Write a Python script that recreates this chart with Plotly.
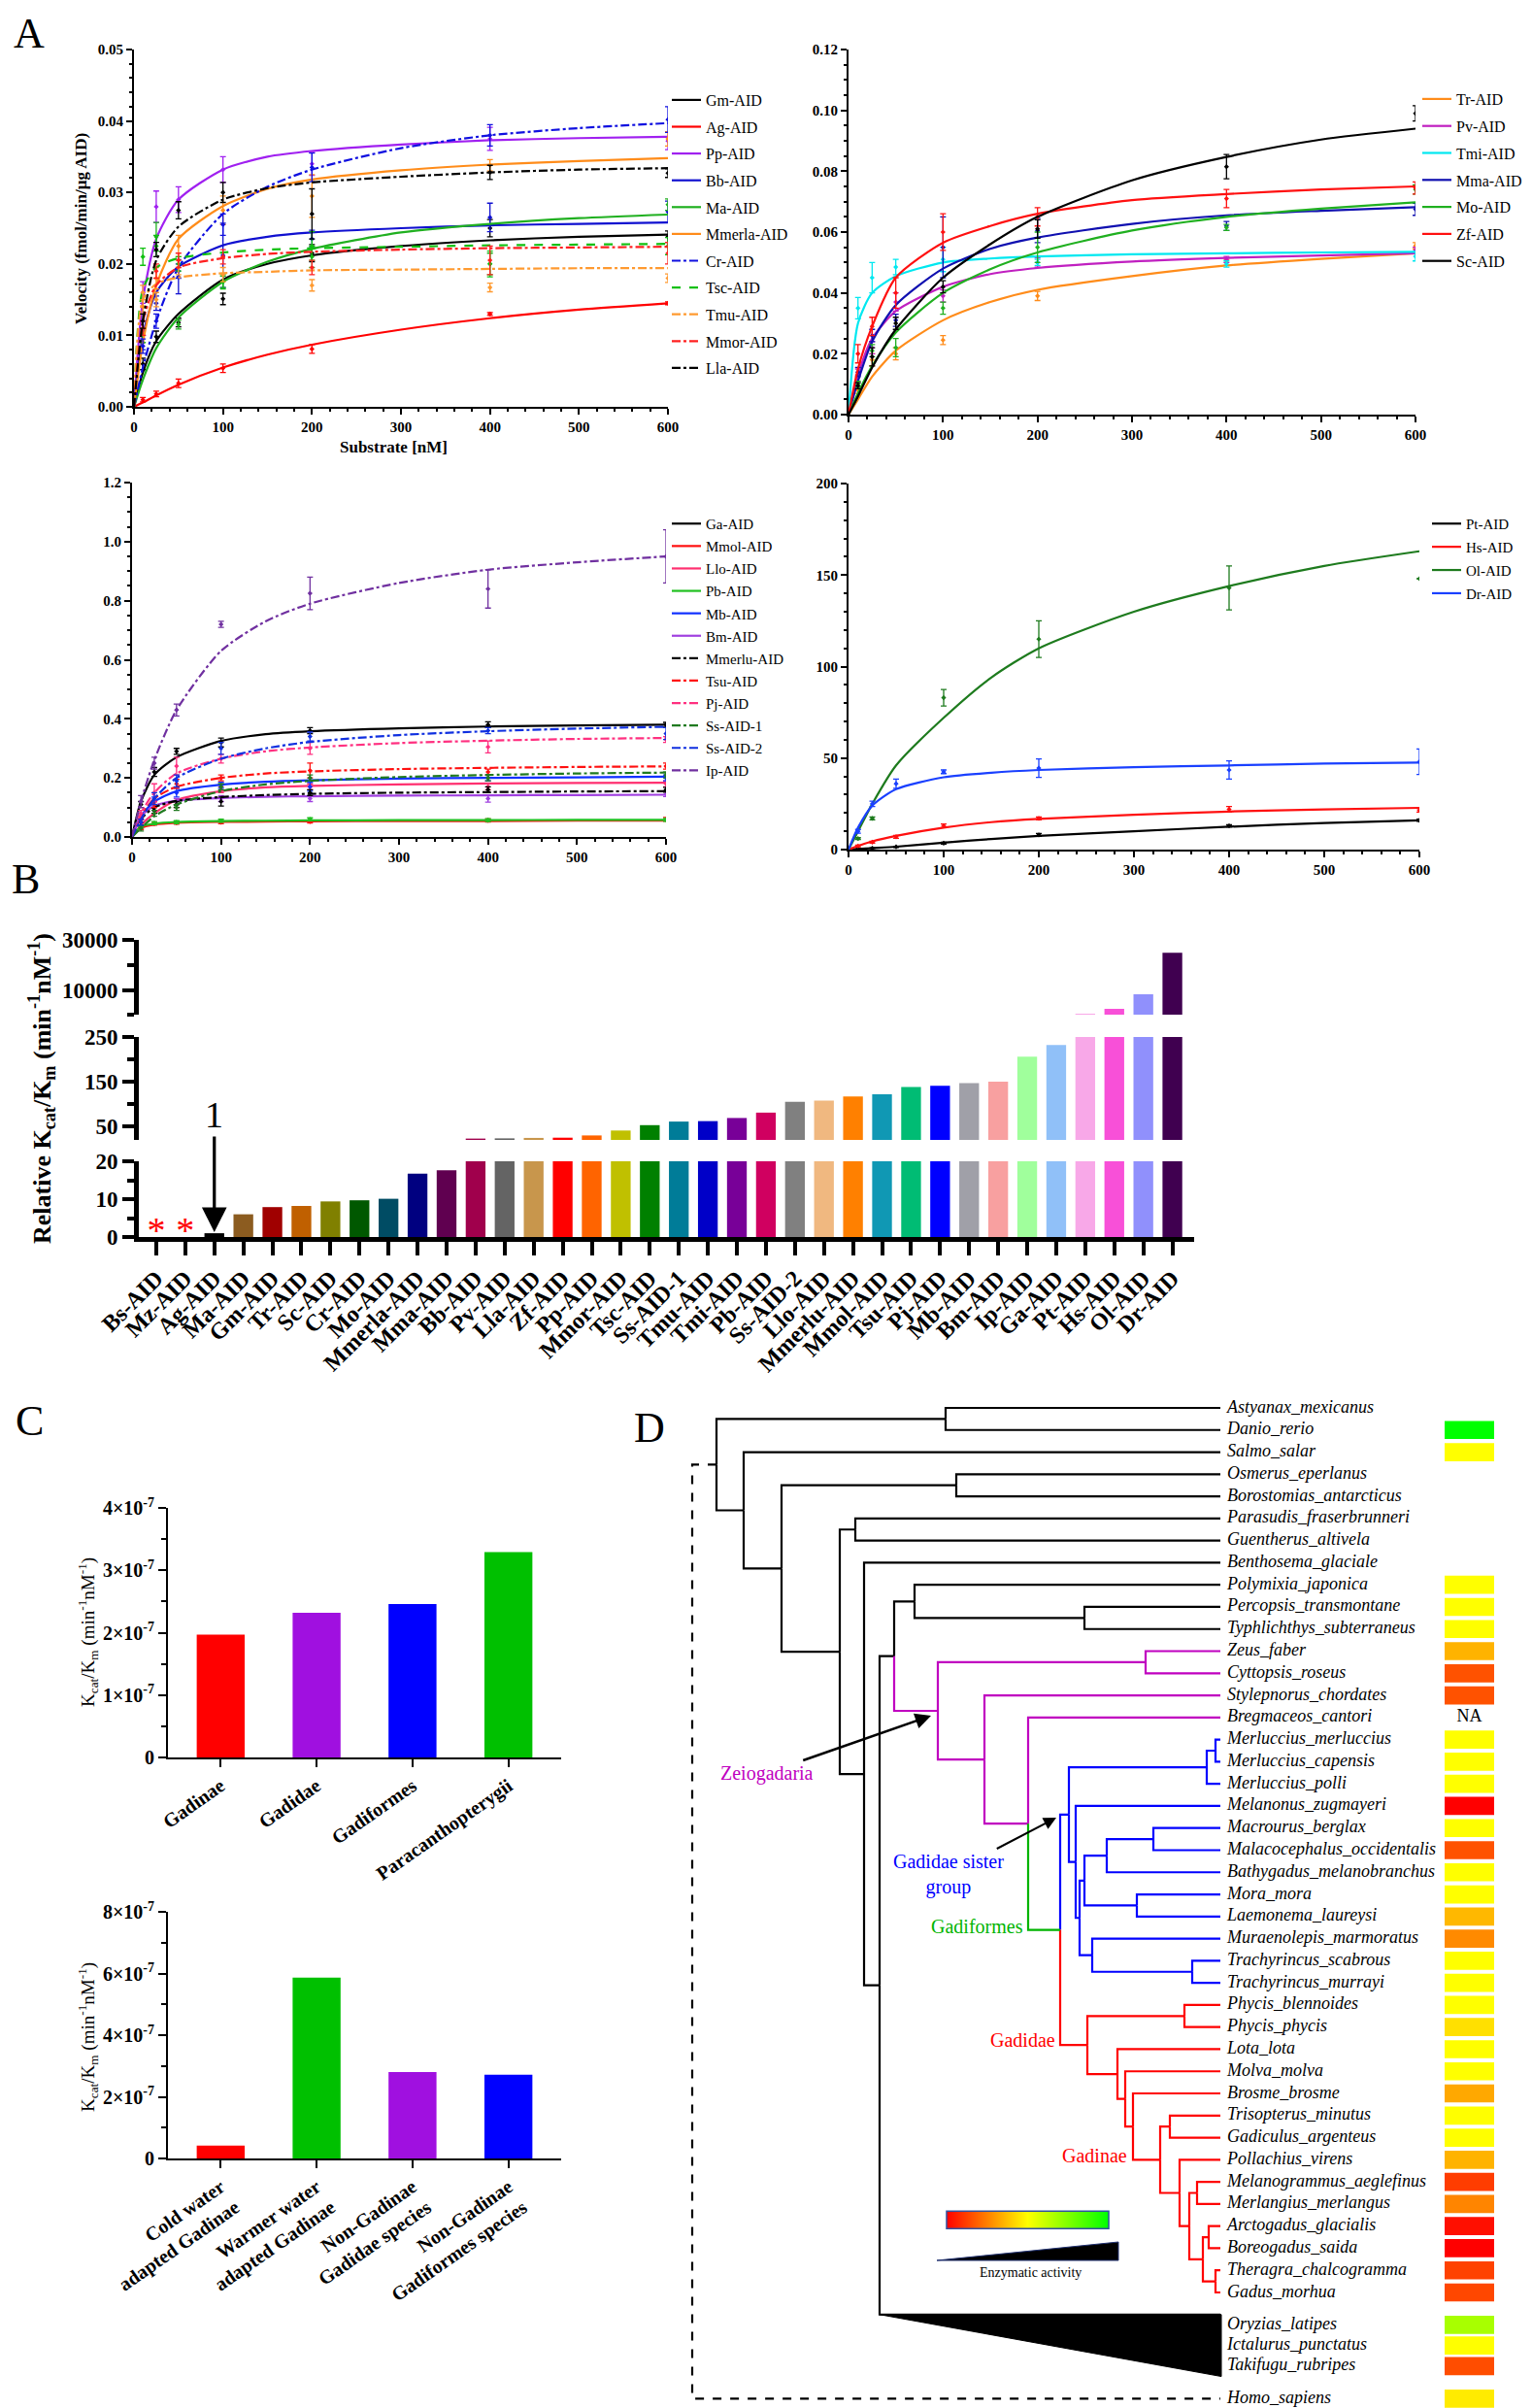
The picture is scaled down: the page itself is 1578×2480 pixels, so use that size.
import plotly.graph_objects as go

W, H = 1578, 2480
SERIF = "Liberation Serif"


def px(x):
    return x / W


def py(y):
    return 1 - y / H


# ======================= Panel A data =======================
CURVE_X = [0, 10, 25, 50, 100, 150, 200, 300, 400, 500, 600]
MEAS_X = [10, 25, 50, 100, 200, 400, 600]

a1_names = ["Gm-AID", "Ag-AID", "Pp-AID", "Bb-AID", "Ma-AID", "Mmerla-AID",
            "Cr-AID", "Tsc-AID", "Tmu-AID", "Mmor-AID", "Lla-AID"]
a1_colors = ["#000000", "#ff0000", "#a020f0", "#1010d0", "#20b020", "#ff8c1a",
             "#1010e0", "#10c010", "#ff9a30", "#ff2020", "#000000"]
a1_dash = ["solid"] * 6 + ["dashdot", "dash", "dashdot", "dashdot", "dashdot"]
a1_curve = [
    [0, 0.0048, 0.0092, 0.0130, 0.0178, 0.0200, 0.0212, 0.0225, 0.0233, 0.0238, 0.0241],
    [0, 0.0006, 0.0016, 0.0031, 0.0055, 0.0073, 0.0087, 0.0108, 0.0124, 0.0136, 0.0145],
    [0, 0.0150, 0.0235, 0.0290, 0.0332, 0.0350, 0.0358, 0.0367, 0.0373, 0.0376, 0.0378],
    [0, 0.0100, 0.0160, 0.0196, 0.0226, 0.0238, 0.0244, 0.0250, 0.0254, 0.0256, 0.0258],
    [0, 0.0038, 0.0082, 0.0125, 0.0175, 0.0203, 0.0221, 0.0244, 0.0256, 0.0264, 0.0269],
    [0, 0.0090, 0.0170, 0.0235, 0.0281, 0.0305, 0.0318, 0.0331, 0.0339, 0.0344, 0.0348],
    [0, 0.0055, 0.0120, 0.0195, 0.0270, 0.0308, 0.0332, 0.0362, 0.0380, 0.0390, 0.0397],
    [0, 0.0165, 0.0195, 0.0208, 0.0216, 0.0220, 0.0222, 0.0224, 0.0226, 0.0227, 0.0228],
    [0, 0.0150, 0.0172, 0.0181, 0.0187, 0.0189, 0.0191, 0.0192, 0.0193, 0.0194, 0.0194],
    [0, 0.0120, 0.0170, 0.0195, 0.0208, 0.0214, 0.0217, 0.0220, 0.0222, 0.0223, 0.0224],
    [0, 0.0120, 0.0205, 0.0252, 0.0290, 0.0306, 0.0314, 0.0322, 0.0328, 0.0332, 0.0334],
]
a1_mean = [
    [0.0060, 0.0098, 0.0118, 0.0151, 0.0215, 0.0250, 0.0238],
    [0.0010, 0.0018, 0.0033, 0.0054, 0.0081, 0.0130, 0.0145],
    [0.0160, 0.0280, 0.0290, 0.0332, 0.0340, 0.0375, 0.0372],
    [0.0090, 0.0145, 0.0182, 0.0212, 0.0235, 0.0265, 0.0273],
    [0.0100, 0.0238, 0.0115, 0.0175, 0.0210, 0.0200, 0.0283],
    [0.0140, 0.0180, 0.0225, 0.0275, 0.0295, 0.0338, 0.0375],
    [0.0085, 0.0120, 0.0190, 0.0255, 0.0335, 0.0380, 0.0402],
    [0.0210, 0.0225, 0.0200, 0.0175, 0.0225, 0.0200, 0.0225],
    [0.0160, 0.0150, 0.0195, 0.0185, 0.0170, 0.0167, 0.0180],
    [0.0110, 0.0190, 0.0205, 0.0210, 0.0195, 0.0205, 0.0215],
    [0.0120, 0.0220, 0.0275, 0.0300, 0.0270, 0.0328, 0.0327],
]
a1_err = [
    [0.0008, 0.0008, 0.0006, 0.0008, 0.0012, 0.0012, 0.0008],
    [0.0003, 0.0004, 0.0006, 0.0006, 0.0006, 0.0002, 0.0002],
    [0.0015, 0.0022, 0.0018, 0.0018, 0.0016, 0.0016, 0.0012],
    [0.0010, 0.0010, 0.0024, 0.0045, 0.0012, 0.0020, 0.0015],
    [0.0010, 0.0020, 0.0006, 0.0008, 0.0015, 0.0015, 0.0008],
    [0.0010, 0.0015, 0.0015, 0.0020, 0.0030, 0.0008, 0.0010],
    [0.0010, 0.0010, 0.0010, 0.0015, 0.0020, 0.0015, 0.0018],
    [0.0012, 0.0015, 0.0010, 0.0010, 0.0020, 0.0018, 0.0012],
    [0.0010, 0.0010, 0.0010, 0.0010, 0.0008, 0.0006, 0.0006],
    [0.0010, 0.0010, 0.0010, 0.0010, 0.0010, 0.0020, 0.0015],
    [0.0010, 0.0010, 0.0012, 0.0014, 0.0035, 0.0010, 0.0006],
]

a2_names = ["Tr-AID", "Pv-AID", "Tmi-AID", "Mma-AID", "Mo-AID", "Zf-AID", "Sc-AID"]
a2_colors = ["#ff8c1a", "#c020c0", "#00e8f0", "#1010b0", "#20b020", "#ff1010", "#000000"]
a2_dash = ["solid"] * 7
a2_curve = [
    [0, 0.0050, 0.0125, 0.0210, 0.0310, 0.0370, 0.0410, 0.0455, 0.0490, 0.0512, 0.0530],
    [0, 0.0130, 0.0250, 0.0340, 0.0420, 0.0462, 0.0482, 0.0503, 0.0515, 0.0523, 0.0530],
    [0, 0.0300, 0.0400, 0.0455, 0.0500, 0.0513, 0.0520, 0.0527, 0.0530, 0.0533, 0.0535],
    [0, 0.0110, 0.0240, 0.0360, 0.0480, 0.0545, 0.0582, 0.0627, 0.0655, 0.0670, 0.0682],
    [0, 0.0070, 0.0160, 0.0270, 0.0400, 0.0478, 0.0533, 0.0605, 0.0650, 0.0677, 0.0698],
    [0, 0.0150, 0.0290, 0.0450, 0.0565, 0.0620, 0.0660, 0.0705, 0.0725, 0.0740, 0.0750],
    [0, 0.0060, 0.0155, 0.0280, 0.0450, 0.0560, 0.0650, 0.0770, 0.0847, 0.0904, 0.0940],
]
a2_mean = [
    [0.0080, 0.0180, 0.0200, 0.0245, 0.0390, 0.0500, 0.0555],
    [0.0140, 0.0220, 0.0370, 0.0390, 0.0500, 0.0510, 0.0540],
    [0.0350, 0.0450, 0.0485, 0.0510, 0.0500, 0.0495, 0.0520],
    [0.0140, 0.0260, 0.0310, 0.0550, 0.0605, 0.0620, 0.0675],
    [0.0100, 0.0210, 0.0220, 0.0350, 0.0550, 0.0615, 0.0740],
    [0.0200, 0.0290, 0.0400, 0.0600, 0.0650, 0.0710, 0.0745],
    [0.0095, 0.0190, 0.0300, 0.0420, 0.0610, 0.0815, 0.0990],
]
a2_err = [
    [0.0010, 0.0020, 0.0020, 0.0015, 0.0015, 0.0010, 0.0010],
    [0.0010, 0.0020, 0.0030, 0.0020, 0.0015, 0.0010, 0.0010],
    [0.0035, 0.0050, 0.0025, 0.0040, 0.0010, 0.0010, 0.0015],
    [0.0015, 0.0020, 0.0020, 0.0100, 0.0040, 0.0015, 0.0020],
    [0.0010, 0.0020, 0.0030, 0.0020, 0.0050, 0.0010, 0.0015],
    [0.0030, 0.0030, 0.0050, 0.0060, 0.0030, 0.0030, 0.0020],
    [0.0010, 0.0030, 0.0020, 0.0020, 0.0030, 0.0040, 0.0025],
]

a3_names = ["Ga-AID", "Mmol-AID", "Llo-AID", "Pb-AID", "Mb-AID", "Bm-AID",
            "Mmerlu-AID", "Tsu-AID", "Pj-AID", "Ss-AID-1", "Ss-AID-2", "Ip-AID"]
a3_colors = ["#000000", "#ff1010", "#ff3070", "#20c020", "#1030ff", "#a040e0",
             "#000000", "#ff1010", "#ff3080", "#207a20", "#1030e0", "#7030a0"]
a3_dash = ["solid"] * 6 + ["dashdot"] * 6
a3_curve = [
    [0, 0.120, 0.210, 0.270, 0.325, 0.348, 0.358, 0.368, 0.374, 0.378, 0.380],
    [0, 0.030, 0.042, 0.048, 0.051, 0.052, 0.053, 0.054, 0.054, 0.055, 0.055],
    [0, 0.040, 0.080, 0.125, 0.155, 0.168, 0.173, 0.178, 0.181, 0.183, 0.184],
    [0, 0.035, 0.045, 0.051, 0.054, 0.055, 0.056, 0.057, 0.057, 0.058, 0.058],
    [0, 0.070, 0.120, 0.155, 0.177, 0.187, 0.192, 0.198, 0.200, 0.202, 0.204],
    [0, 0.070, 0.105, 0.123, 0.132, 0.136, 0.138, 0.140, 0.141, 0.142, 0.143],
    [0, 0.060, 0.100, 0.122, 0.135, 0.142, 0.146, 0.150, 0.152, 0.154, 0.155],
    [0, 0.070, 0.130, 0.170, 0.200, 0.215, 0.222, 0.230, 0.234, 0.237, 0.239],
    [0, 0.080, 0.150, 0.215, 0.265, 0.290, 0.303, 0.318, 0.326, 0.332, 0.335],
    [0, 0.030, 0.070, 0.110, 0.155, 0.178, 0.190, 0.203, 0.210, 0.215, 0.218],
    [0, 0.060, 0.130, 0.200, 0.265, 0.300, 0.322, 0.345, 0.358, 0.367, 0.373],
    [0, 0.120, 0.260, 0.430, 0.630, 0.730, 0.790, 0.860, 0.905, 0.930, 0.950],
]
a3_mean = [
    [0.110, 0.220, 0.290, 0.320, 0.360, 0.380, 0.380],
    [0.030, 0.045, 0.048, 0.050, 0.052, 0.056, 0.060],
    [0.040, 0.100, 0.110, 0.160, 0.170, 0.170, 0.180],
    [0.035, 0.047, 0.050, 0.055, 0.060, 0.057, 0.058],
    [0.060, 0.120, 0.150, 0.175, 0.170, 0.200, 0.200],
    [0.070, 0.100, 0.120, 0.130, 0.130, 0.130, 0.145],
    [0.050, 0.090, 0.110, 0.120, 0.150, 0.160, 0.160],
    [0.060, 0.110, 0.180, 0.200, 0.225, 0.220, 0.240],
    [0.080, 0.150, 0.240, 0.265, 0.300, 0.305, 0.330],
    [0.030, 0.080, 0.100, 0.170, 0.200, 0.200, 0.210],
    [0.050, 0.130, 0.190, 0.300, 0.340, 0.360, 0.350],
    [0.120, 0.250, 0.430, 0.720, 0.825, 0.840, 0.950],
]
a3_err = [
    [0.010, 0.015, 0.010, 0.015, 0.010, 0.010, 0.008],
    [0.005, 0.005, 0.005, 0.005, 0.005, 0.005, 0.006],
    [0.010, 0.020, 0.010, 0.010, 0.010, 0.010, 0.010],
    [0.005, 0.005, 0.005, 0.005, 0.005, 0.005, 0.005],
    [0.010, 0.015, 0.015, 0.010, 0.015, 0.010, 0.010],
    [0.010, 0.010, 0.010, 0.010, 0.010, 0.012, 0.008],
    [0.010, 0.010, 0.010, 0.015, 0.010, 0.010, 0.008],
    [0.010, 0.010, 0.015, 0.010, 0.025, 0.010, 0.010],
    [0.010, 0.030, 0.030, 0.015, 0.020, 0.020, 0.010],
    [0.010, 0.010, 0.010, 0.010, 0.010, 0.010, 0.010],
    [0.010, 0.020, 0.020, 0.020, 0.015, 0.010, 0.020],
    [0.020, 0.020, 0.020, 0.010, 0.055, 0.065, 0.090],
]

a4_names = ["Pt-AID", "Hs-AID", "Ol-AID", "Dr-AID"]
a4_colors = ["#000000", "#ff1010", "#1e7b1e", "#1a40ff"]
a4_dash = ["solid"] * 4
a4_curve = [
    [0, 0.3, 0.8, 1.6, 3.8, 5.8, 7.5, 10.0, 12.5, 14.5, 16.0],
    [0, 2.0, 4.5, 7.5, 12.0, 15.0, 16.8, 19.0, 20.8, 22.0, 22.8],
    [0, 10, 25, 46, 72, 94, 110, 130, 144, 155, 163],
    [0, 12, 24, 33, 39.5, 42, 43.5, 45, 46, 47, 47.5],
]
a4_mean = [
    [0.3, 0.8, 1.5, 3.5, 8.0, 13.0, 16.0],
    [2.0, 4.0, 7.0, 13.0, 17.0, 22.0, 21.5],
    [6.0, 17.0, None, 83.0, 115.0, 143.0, 148.0],
    [10.0, 25.0, 36.0, 42.5, 44.5, 43.5, 48.0],
]
a4_err = [
    [0.2, 0.2, 0.3, 0.5, 0.8, 0.6, 0.6],
    [0.5, 0.5, 0.8, 1.0, 0.8, 1.5, 1.0],
    [0.5, 0.8, 0.0, 4.5, 10.0, 12.0, 0.0],
    [1.0, 1.5, 2.5, 1.0, 5.0, 5.0, 7.0],
]

# ======================= Panel B data =======================
b_names = ["Bs-AID", "Mz-AID", "Ag-AID", "Ma-AID", "Gm-AID", "Tr-AID", "Sc-AID", "Cr-AID",
           "Mo-AID", "Mmerla-AID", "Mma-AID", "Bb-AID", "Pv-AID", "Lla-AID", "Zf-AID",
           "Pp-AID", "Mmor-AID", "Tsc-AID", "Ss-AID-1", "Tmu-AID", "Tmi-AID", "Pb-AID",
           "Ss-AID-2", "Llo-AID", "Mmerlu-AID", "Mmol-AID", "Tsu-AID", "Pj-AID", "Mb-AID",
           "Bm-AID", "Ip-AID", "Ga-AID", "Pt-AID", "Hs-AID", "Ol-AID", "Dr-AID"]
b_values = [None, None, 1, 6, 7.9, 8.2, 9.4, 9.7, 10.1, 16.7, 17.6, 23, 23.5, 24.5, 25,
            30, 41, 53, 61, 62, 69, 81, 105, 108, 117, 122, 138, 141, 147, 150, 206, 232,
            400, 2570, 8360, 24860]
b_colors = ["#000000", "#000000", "#000000", "#8c5c20", "#a00000", "#c06000", "#808000",
            "#005800", "#004c64", "#000080", "#600050", "#a0004c", "#646464", "#c8964c",
            "#ff0000", "#ff6400", "#c0c000", "#008000", "#007c98", "#0000c8", "#780098",
            "#d00060", "#808080", "#f0b880", "#ff8000", "#1098b4", "#00bc74", "#0000ff",
            "#a0a0a8", "#f8a0a0", "#a0ff9c", "#90c0f8", "#f8a8e8", "#f850d8", "#9090fc",
            "#400050"]
b_not_detected = [n for n, v in zip(b_names, b_values) if v is None]
B_SEGMENTS = [(0, 20), (20, 250), (250, 30000)]

# ======================= Panel C data =======================
c1_cats = ["Gadinae", "Gadidae", "Gadiformes", "Paracanthopterygii"]
c1_vals = [1.97e-7, 2.32e-7, 2.46e-7, 3.29e-7]
c1_colors = ["#ff0000", "#a010e0", "#0000ff", "#00c000"]
c2_cats = ["Cold water<br>adapted Gadinae", "Warmer water<br>adapted Gadinae",
           "Non-Gadinae<br>Gadidae species", "Non-Gadinae<br>Gadiformes species"]
c2_vals = [0.42e-7, 5.87e-7, 2.80e-7, 2.72e-7]
c2_colors = ["#ff0000", "#00c000", "#a010e0", "#0000ff"]

# ======================= Panel D data =======================
d_species = ["Astyanax_mexicanus", "Danio_rerio", "Salmo_salar", "Osmerus_eperlanus",
             "Borostomias_antarcticus", "Parasudis_fraserbrunneri", "Guentherus_altivela",
             "Benthosema_glaciale", "Polymixia_japonica", "Percopsis_transmontane",
             "Typhlichthys_subterraneus", "Zeus_faber", "Cyttopsis_roseus",
             "Stylepnorus_chordates", "Bregmaceos_cantori", "Merluccius_merluccius",
             "Merluccius_capensis", "Merluccius_polli", "Melanonus_zugmayeri",
             "Macrourus_berglax", "Malacocephalus_occidentalis", "Bathygadus_melanobranchus",
             "Mora_mora", "Laemonema_laureysi", "Muraenolepis_marmoratus",
             "Trachyrincus_scabrous", "Trachyrincus_murrayi", "Phycis_blennoides",
             "Phycis_phycis", "Lota_lota", "Molva_molva", "Brosme_brosme",
             "Trisopterus_minutus", "Gadiculus_argenteus", "Pollachius_virens",
             "Melanogrammus_aeglefinus", "Merlangius_merlangus", "Arctogadus_glacialis",
             "Boreogadus_saida", "Theragra_chalcogramma", "Gadus_morhua",
             "Oryzias_latipes", "Ictalurus_punctatus", "Takifugu_rubripes", "Homo_sapiens"]
d_activity = [None, 1.0, 0.5, None, None, None, None, None, 0.5, 0.5, 0.5, 0.35, 0.16,
              0.16, None, 0.5, 0.5, 0.5, 0.0, 0.5, 0.16, 0.5, 0.5, 0.36, 0.27, 0.5, 0.5,
              0.5, 0.44, 0.5, 0.5, 0.33, 0.5, 0.5, 0.35, 0.12, 0.26, 0.03, 0.0, 0.13,
              0.14, 0.67, 0.5, 0.15, 0.46]
d_na = ["Bregmaceos_cantori"]
d_collapsed = ["Oryzias_latipes", "Ictalurus_punctatus", "Takifugu_rubripes"]
d_outgroup = "Homo_sapiens"

# tree: (node depth, children[, clade colour]); leaves are species names
TIP = 519
T_GADINAE = (457, [(467, ["Trisopterus_minutus", "Gadiculus_argenteus"]),
                   (477, ["Pollachius_virens",
                          (487, [(495, ["Melanogrammus_aeglefinus", "Merlangius_merlangus"]),
                                 (501, [(507, ["Arctogadus_glacialis", "Boreogadus_saida"]),
                                        (514, ["Theragra_chalcogramma", "Gadus_morhua"])])])])])
T_GADIDAE = (382, [(482, ["Phycis_blennoides", "Phycis_phycis"]),
                   (413, ["Lota_lota",
                          (421, ["Molva_molva",
                                 (429, ["Brosme_brosme", T_GADINAE])])])], "red")
T_MACRO = (379, [(402, [(450, ["Macrourus_berglax", "Malacocephalus_occidentalis"]),
                        "Bathygadus_melanobranchus"]),
                 (433, ["Mora_mora", "Laemonema_laureysi"])])
T_MURAE = (387, ["Muraenolepis_marmoratus", (490, ["Trachyrincus_scabrous", "Trachyrincus_murrayi"])])
T_SISTER = (363, [(505, [(514, ["Merluccius_merluccius", "Merluccius_capensis"]), "Merluccius_polli"]),
                  (370, ["Melanonus_zugmayeri", (374, [T_MACRO, T_MURAE])])], "blue")
T_GADIFORMES = (354, [T_SISTER, T_GADIDAE], "green")
T_ZEIOGADARIA = (228, [(442, ["Zeus_faber", "Cyttopsis_roseus"]),
                       (276, ["Stylepnorus_chordates",
                              (321, ["Bregmaceos_cantori", T_GADIFORMES])])], "magenta")
T_PARA = (183, [(204, ["Polymixia_japonica",
                       (379, ["Percopsis_transmontane", "Typhlichthys_subterraneus"])]),
                T_ZEIOGADARIA])
T_H = (168, [T_PARA, "COLLAPSED"])
T_G = (152, ["Benthosema_glaciale", T_H])
T_E = (127, [(143, ["Parasudis_fraserbrunneri", "Guentherus_altivela"]), T_G])
T_C = (67, [(247, ["Osmerus_eperlanus", "Borostomias_antarcticus"]), T_E])
T_ROOT = (0, [(236, ["Astyanax_mexicanus", "Danio_rerio"]), (28, ["Salmo_salar", T_C])])

CLADE_COLORS = {None: "#000000", "magenta": "#c000c0", "green": "#00b400",
                "blue": "#0000ff", "red": "#ff0000"}

# ======================= figure =======================
fig = go.Figure()


def add_kinetics(names, colors, dashes, curves, means, errs, xa, ya, leg):
    for i, nm in enumerate(names):
        grp = leg + nm
        fig.add_trace(go.Scatter(
            x=CURVE_X, y=curves[i], mode="lines", name=nm, legend=leg, legendgroup=grp,
            line=dict(color=colors[i], width=2.2, dash=dashes[i], shape="spline", smoothing=0.7),
            xaxis=xa, yaxis=ya, hoverinfo="skip"))
        fig.add_trace(go.Scatter(
            x=MEAS_X, y=means[i], mode="markers", showlegend=False, legend=leg, legendgroup=grp,
            marker=dict(color=colors[i], size=4, symbol="diamond"),
            error_y=dict(type="data", array=errs[i], color=colors[i], thickness=1.3, width=3),
            xaxis=xa, yaxis=ya, hoverinfo="skip"))


add_kinetics(a1_names, a1_colors, a1_dash, a1_curve, a1_mean, a1_err, "x", "y", "legend")
add_kinetics(a2_names, a2_colors, a2_dash, a2_curve, a2_mean, a2_err, "x2", "y2", "legend2")
add_kinetics(a3_names, a3_colors, a3_dash, a3_curve, a3_mean, a3_err, "x3", "y3", "legend3")
add_kinetics(a4_names, a4_colors, a4_dash, a4_curve, a4_mean, a4_err, "x4", "y4", "legend4")

# ---- Panel B: broken-axis bars (same data on three y segments) ----
for ya, (lo, hi) in zip(["y5", "y6", "y7"], B_SEGMENTS):
    seg_vals = [v if (v is not None and v > lo) else None for v in b_values]
    fig.add_trace(go.Bar(x=b_names, y=seg_vals, marker=dict(color=b_colors, line=dict(width=0)),
                         width=0.68, xaxis="x5", yaxis=ya, showlegend=False, hoverinfo="skip"))
fig.add_trace(go.Scatter(x=b_not_detected, y=[1] * len(b_not_detected), mode="text",
                         text=["*"] * len(b_not_detected),
                         textfont=dict(family=SERIF, size=38, color="#ff0000"),
                         xaxis="x5", yaxis="y5", showlegend=False, hoverinfo="skip"))

# ---- Panel C ----
fig.add_trace(go.Bar(x=c1_cats, y=c1_vals, marker=dict(color=c1_colors), width=0.5,
                     xaxis="x6", yaxis="y8", showlegend=False, hoverinfo="skip"))
fig.add_trace(go.Bar(x=c2_cats, y=c2_vals, marker=dict(color=c2_colors), width=0.5,
                     xaxis="x7", yaxis="y9", showlegend=False, hoverinfo="skip"))

# ---- Panel D: tree ----
leaf_rows = {}
segs = {}
collapsed_apex = {}


def walk(node, col):
    if isinstance(node, str):
        r = float(len(leaf_rows))
        leaf_rows[node] = r
        return TIP, r
    depth, kids = node[0], node[1]
    res = []
    for k in kids:
        kcol = k[2] if (not isinstance(k, str) and len(k) > 2) else col
        kx, ky = walk(k, kcol)
        if k == "COLLAPSED":
            collapsed_apex["x"] = depth
            collapsed_apex["y"] = ky
        res.append((kx, ky, kcol))
    y = (res[0][1] + res[-1][1]) / 2
    for kx, ky, kcol in res:
        xs, ys = segs.setdefault(kcol, ([], []))
        xs += [depth, depth, kx, None]
        ys += [y, ky, ky, None]
    return depth, y


root_x, root_y = walk(T_ROOT, None)

for col, (xs, ys) in segs.items():
    fig.add_trace(go.Scatter(x=xs, y=ys, mode="lines",
                             line=dict(color=CLADE_COLORS[col], width=2.2),
                             xaxis="x8", yaxis="y10", showlegend=False, hoverinfo="skip"))

TRI_H = 2.8
HOMO_ROW = 44.8
ax_, ay_ = collapsed_apex["x"], collapsed_apex["y"]
fig.add_trace(go.Scatter(x=[ax_, TIP + 1, TIP + 1, ax_], y=[ay_, ay_, ay_ + TRI_H, ay_],
                         mode="lines", fill="toself", fillcolor="#000000",
                         line=dict(color="#000000", width=1),
                         xaxis="x8", yaxis="y10", showlegend=False, hoverinfo="skip"))
# dashed outgroup connection (Homo sapiens)
fig.add_trace(go.Scatter(x=[root_x, root_x - 25, root_x - 25, TIP], y=[root_y, root_y, HOMO_ROW, HOMO_ROW],
                         mode="lines", line=dict(color="#000000", width=2.2, dash="dash"),
                         xaxis="x8", yaxis="y10", showlegend=False, hoverinfo="skip"))

row_of = dict(leaf_rows)
for i, nm in enumerate(d_collapsed):
    row_of[nm] = ay_ + (i + 0.5) * TRI_H / len(d_collapsed)
row_of[d_outgroup] = HOMO_ROW
label_rows = [row_of[n] for n in d_species]

fig.add_trace(go.Scatter(x=[TIP + 7] * len(d_species), y=label_rows, mode="text",
                         text=d_species, textposition="middle right",
                         textfont=dict(family=SERIF, size=18, color="#000000", style="italic"),
                         xaxis="x8", yaxis="y10", showlegend=False, hoverinfo="skip"))

BOX_X0, BOX_W = 750, 51
box_rows = [row_of[n] for n, a in zip(d_species, d_activity) if a is not None]
box_vals = [a for a in d_activity if a is not None]
ACT_SCALE = [[0.0, "#ff0000"], [0.5, "#ffff00"], [1.0, "#00ff00"]]
fig.add_trace(go.Bar(
    orientation="h", y=box_rows, x=[BOX_W] * len(box_rows), base=BOX_X0, width=0.82,
    marker=dict(color=box_vals, colorscale=ACT_SCALE, cmin=0, cmax=1, line=dict(width=0),
                showscale=True,
                colorbar=dict(orientation="h", x=px(1050), y=py(2279), xanchor="center",
                              yanchor="middle", lenmode="pixels", len=187, thickness=18,
                              outlinewidth=1.5, outlinecolor="#3050a0", showticklabels=False,
                              ticks="")),
    xaxis="x8", yaxis="y10", showlegend=False, hoverinfo="skip"))
fig.add_trace(go.Scatter(x=[BOX_X0 + BOX_W / 2] * len(d_na), y=[row_of[n] for n in d_na],
                         mode="text", text=["NA"] * len(d_na),
                         textfont=dict(family=SERIF, size=18, color="#000000"),
                         xaxis="x8", yaxis="y10", showlegend=False, hoverinfo="skip"))

# ======================= layout =======================
BOLD15 = dict(family=SERIF, size=15, color="#000000", weight="bold")


def kin_x(dom, anchor):
    return dict(domain=[px(dom[0]), px(dom[1])], anchor=anchor, range=[0, 600], dtick=100,
                showline=True, linecolor="#000000", linewidth=2, ticks="outside", ticklen=6,
                tickwidth=2, tickcolor="#000000", showgrid=False, zeroline=False,
                tickfont=BOLD15, automargin=False,
                minor=dict(dtick=20, ticks="outside", ticklen=3, tickwidth=1.5,
                           tickcolor="#000000"), fixedrange=True)


def kin_y(dom, anchor, rng, dtick, mdtick, fmt):
    return dict(domain=[py(dom[1]), py(dom[0])], anchor=anchor, range=rng, dtick=dtick,
                tickformat=fmt, showline=True, linecolor="#000000", linewidth=2,
                ticks="outside", ticklen=6, tickwidth=2, tickcolor="#000000", showgrid=False,
                zeroline=False, tickfont=BOLD15, automargin=False,
                minor=dict(dtick=mdtick, ticks="outside", ticklen=3, tickwidth=1.5,
                           tickcolor="#000000"), fixedrange=True)


def leg(x, y, size, gap):
    return dict(x=px(x), y=py(y), xanchor="left", yanchor="top", bgcolor="rgba(0,0,0,0)",
                font=dict(family=SERIF, size=size, color="#000000"), tracegroupgap=gap,
                itemwidth=30, borderwidth=0)


BAXIS_Y = dict(anchor="x5", showline=True, linecolor="#000000", linewidth=5, ticks="outside",
               ticklen=12, tickwidth=4, tickcolor="#000000", showgrid=False, zeroline=False,
               tickfont=dict(family=SERIF, size=23, color="#000000", weight="bold"),
               automargin=False, fixedrange=True)

c_ticks_top = [0, 1e-7, 2e-7, 3e-7, 4e-7]
c_ticks_bot = [0, 2e-7, 4e-7, 6e-7, 8e-7]


def c_text(vals):
    return ["0" if v == 0 else "%d×10<sup>-7</sup>" % round(v * 1e7) for v in vals]


def c_x(anchor):
    return dict(domain=[px(165), px(570)], anchor=anchor, range=[-0.55, 3.55], type="category",
                showline=True, linecolor="#000000", linewidth=2, ticks="outside", ticklen=8,
                tickwidth=2, tickcolor="#000000", tickangle=-35, showgrid=False,
                tickfont=dict(family=SERIF, size=20, color="#000000", weight="bold"),
                automargin=False, fixedrange=True)


def c_y(dom, anchor, rng, tv, mdtick):
    return dict(domain=[py(dom[1]), py(dom[0])], anchor=anchor, range=rng, tickmode="array",
                tickvals=tv, ticktext=c_text(tv), showline=True, linecolor="#000000",
                linewidth=2, ticks="outside", ticklen=8, tickwidth=2, tickcolor="#000000",
                showgrid=False, zeroline=False,
                tickfont=dict(family=SERIF, size=20, color="#000000", weight="bold"),
                automargin=False,
                minor=dict(dtick=mdtick, ticks="outside", ticklen=5, tickwidth=2,
                           tickcolor="#000000"), fixedrange=True)


ROW_PX = 22.775
ROW0_PX = 1442
D_ORIGIN_PX = 730

fig.update_layout(
    width=W, height=H, margin=dict(l=0, r=0, t=0, b=0, pad=0, autoexpand=False),
    paper_bgcolor="white", plot_bgcolor="rgba(0,0,0,0)", template="none",
    font=dict(family=SERIF, color="#000000"),
    barmode="overlay", showlegend=True,
    # Panel A
    xaxis=kin_x((130, 680), "y"),
    yaxis=kin_y((43, 411), "x", [0, 0.05], 0.01, 0.002, ".2f"),
    xaxis2=kin_x((866, 1450), "y2"),
    yaxis2=kin_y((43, 419), "x2", [0, 0.12], 0.02, 0.005, ".2f"),
    xaxis3=kin_x((128, 678), "y3"),
    yaxis3=kin_y((489, 854), "x3", [0, 1.2], 0.2, 0.05, ".1f"),
    xaxis4=kin_x((866, 1454), "y4"),
    yaxis4=kin_y((490, 867), "x4", [0, 200], 50, 10, "d"),
    legend=leg(679, 78, 16, 3.8),
    legend2=leg(1452, 77, 16, 4.0),
    legend3=leg(679, 515, 15, 0.6),
    legend4=leg(1462, 515, 15, 1.4),
    # Panel B
    xaxis5=dict(domain=[px(135), px(1222)], anchor="y5", type="category", range=[-0.6, 35.75],
                tickmode="array", tickvals=b_names, ticktext=b_names, tickangle=-45,
                showline=True, linecolor="#000000", linewidth=5, ticks="outside", ticklen=14,
                tickwidth=4, tickcolor="#000000", showgrid=False,
                tickfont=dict(family=SERIF, size=24, color="#000000", weight="bold"),
                automargin=False, fixedrange=True),
    yaxis5=dict(BAXIS_Y, domain=[py(1266), py(1188)], range=[0, 20], dtick=10,
                minor=dict(dtick=5, ticks="outside", ticklen=7, tickwidth=4, tickcolor="#000000")),
    yaxis6=dict(BAXIS_Y, domain=[py(1166), py(1060)], range=[20, 250], tickmode="array",
                tickvals=[50, 150, 250],
                minor=dict(tickmode="array", tickvals=[100, 200], ticks="outside", ticklen=7,
                           tickwidth=4, tickcolor="#000000")),
    yaxis7=dict(BAXIS_Y, domain=[py(1037), py(960)], range=[250, 30000], tickmode="array",
                tickvals=[10000, 30000], ticktext=["10000", "30000"],
                minor=dict(tickmode="array", tickvals=[250, 20000], ticks="outside", ticklen=7,
                           tickwidth=4, tickcolor="#000000")),
    # Panel C
    xaxis6=c_x("y8"),
    yaxis8=c_y((1545, 1802), "x6", [0, 4e-7], c_ticks_top, 0.5e-7),
    xaxis7=c_x("y9"),
    yaxis9=c_y((1961, 2215), "x7", [0, 8e-7], c_ticks_bot, 1e-7),
    # Panel D
    xaxis8=dict(domain=[px(640), 1.0], anchor="y10", range=[640 - D_ORIGIN_PX, W - D_ORIGIN_PX],
                visible=False, fixedrange=True),
    yaxis10=dict(domain=[0, py(1400)], anchor="x8",
                 range=[(H - ROW0_PX) / ROW_PX, (1400 - ROW0_PX) / ROW_PX],
                 visible=False, fixedrange=True),
)

ann = []
for letter, (lx, ly) in {"A": (22, 27), "B": (18, 898), "C": (22, 1455), "D": (661, 1462)}.items():
    ann.append(dict(text=letter, x=px(lx), y=py(ly), xref="paper", yref="paper",
                    showarrow=False, font=dict(family=SERIF, size=44, color="#000000"),
                    xanchor="center", yanchor="middle"))


def title(text, x, y, size, angle=0):
    return dict(text=text, x=px(x), y=py(y), xref="paper", yref="paper", textangle=angle,
                showarrow=False, xanchor="center", yanchor="middle",
                font=dict(family=SERIF, size=size, color="#000000"))


ann += [
    title("<b>Velocity (fmol/min/µg AID)</b>", 76, 228, 17, -90),
    title("<b>Substrate [nM]</b>", 397, 452, 17),
    title("<b>Relative K<sub>cat</sub>/K<sub>m</sub> (min<sup>-1</sup>nM<sup>-1</sup>)</b>",
          35, 1113, 26, -90),
    title("K<sub>cat</sub>/K<sub>m</sub> (min<sup>-1</sup>nM<sup>-1</sup>)", 82, 1673, 19, -90),
    title("K<sub>cat</sub>/K<sub>m</sub> (min<sup>-1</sup>nM<sup>-1</sup>)", 82, 2090, 19, -90),
    title("Enzymatic activity", 1053, 2332, 14),
    dict(text="1", x="Ag-AID", y=1, xref="x5", yref="y5", ax=0, ay=-122, showarrow=True,
         arrowhead=2, arrowsize=1.6, arrowwidth=3.2, arrowcolor="#000000", standoff=1,
         font=dict(family=SERIF, size=38, color="#000000")),
    # tree annotations
    dict(text="Zeiogadaria", x=951 - D_ORIGIN_PX, y=(1759 - ROW0_PX) / ROW_PX, xref="x8", yref="y10",
         ax=-169, ay=59, showarrow=True, arrowhead=2, arrowsize=1.3, arrowwidth=2.5,
         arrowcolor="#000000", font=dict(family=SERIF, size=20, color="#c000c0")),
    dict(text="Gadidae sister<br>group", x=1080 - D_ORIGIN_PX, y=(1864 - ROW0_PX) / ROW_PX,
         xref="x8", yref="y10", ax=-111, ay=58, showarrow=True, arrowhead=2, arrowsize=1.3,
         arrowwidth=2, arrowcolor="#000000", font=dict(family=SERIF, size=20, color="#0000ff")),
    dict(text="Gadiformes", x=1048 - D_ORIGIN_PX, y=(1976 - ROW0_PX) / ROW_PX, xref="x8",
         yref="y10", xanchor="right", showarrow=False,
         font=dict(family=SERIF, size=20, color="#00b400")),
    dict(text="Gadidae", x=1081 - D_ORIGIN_PX, y=(2093 - ROW0_PX) / ROW_PX, xref="x8",
         yref="y10", xanchor="right", showarrow=False,
         font=dict(family=SERIF, size=20, color="#ff0000")),
    dict(text="Gadinae", x=1155 - D_ORIGIN_PX, y=(2212 - ROW0_PX) / ROW_PX, xref="x8",
         yref="y10", xanchor="right", showarrow=False,
         font=dict(family=SERIF, size=20, color="#ff0000")),
]
fig.update_layout(annotations=ann)

fig.add_shape(type="path", xref="paper", yref="paper",
              path="M %f,%f L %f,%f L %f,%f Z" % (px(957), py(2320), px(1144), py(2301),
                                                  px(1144), py(2320)),
              fillcolor="#000000", line=dict(color="#203070", width=1))

fig.write_html("out.html")
